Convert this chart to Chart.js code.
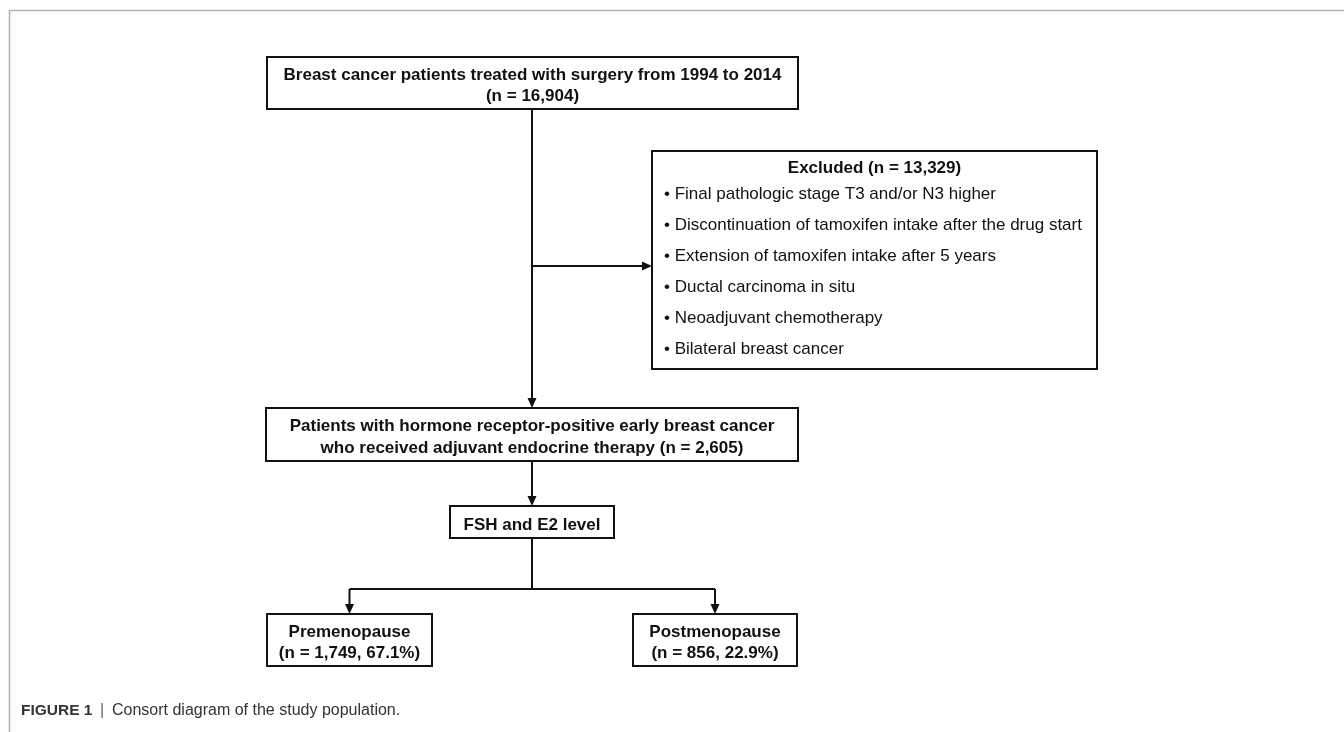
<!DOCTYPE html>
<html>
<head>
<meta charset="utf-8">
<title>Consort diagram</title>
<script src="https://cdn.jsdelivr.net/npm/chart.js@4/dist/chart.umd.min.js"></script>
<style>
  html, body { margin: 0; padding: 0; background: #fff; }
  canvas { display: block; }
</style>
</head>
<body>
<canvas id="flowChart" width="1344" height="732"></canvas>
<script>
// flow data
const stageNames = [
    ["Breast cancer patients treated with surgery from 1994 to 2014"],
    ["Patients with hormone receptor-positive early breast cancer", "who received adjuvant endocrine therapy"],
    ["FSH and E2 level"]
];
const stageCounts = ["16,904", "2,605", null];

const excludedLabel = "Excluded";
const excludedCount = "13,329";
const exclusionReasons = [
    "Final pathologic stage T3 and/or N3 higher",
    "Discontinuation of tamoxifen intake after the drug start",
    "Extension of tamoxifen intake after 5 years",
    "Ductal carcinoma in situ",
    "Neoadjuvant chemotherapy",
    "Bilateral breast cancer"
];

const groupNames = ["Premenopause", "Postmenopause"];
const groupCounts = ["1,749", "856"];
const groupPercents = ["67.1%", "22.9%"];

const captionLabel = "FIGURE 1";
const captionText = "Consort diagram of the study population.";

// layout (in scale units, 0..1344 x 0..732)
const W = 1344, H = 732;
const stageBoxes = [
    [267, 57, 798, 109],
    [266, 408, 798, 461],
    [450, 506, 614, 538]
];
const excludedBox = [652, 151, 1097, 369];
const groupBoxes = [
    [267, 614, 432, 666],
    [633, 614, 797, 666]
];
const excludeBranchY = 266;
const splitY = 589;
const arrowLen = 10;
const ink = "#111";

const cx = b => (b[0] + b[2]) / 2;

// connectors as line datasets, derived from the boxes
const trunkX = cx(stageBoxes[1]);
const segments = [
    [[trunkX, stageBoxes[0][3]], [trunkX, stageBoxes[1][1]]],
    [[trunkX, excludeBranchY], [excludedBox[0], excludeBranchY]],
    [[trunkX, stageBoxes[1][3]], [trunkX, stageBoxes[2][1]]],
    [[trunkX, stageBoxes[2][3]], [trunkX, splitY]],
    [[cx(groupBoxes[0]), splitY], [cx(groupBoxes[1]), splitY]],
    [[cx(groupBoxes[0]), splitY], [cx(groupBoxes[0]), groupBoxes[0][1]]],
    [[cx(groupBoxes[1]), splitY], [cx(groupBoxes[1]), groupBoxes[1][1]]]
];
const arrowEnds = [0, 1, 2, 5, 6]; // segments ending in an arrowhead

function shorten(seg, i) {
    if (!arrowEnds.includes(i)) return seg;
    const [a, b] = seg;
    const dx = Math.sign(b[0] - a[0]), dy = Math.sign(b[1] - a[1]);
    return [a, [b[0] - dx * (arrowLen - 1), b[1] - dy * (arrowLen - 1)]];
}

const connectorDatasets = segments.map((s, i) => ({
    data: shorten(s, i).map(p => ({ x: p[0], y: p[1] })),
    showLine: true,
    borderColor: ink,
    borderWidth: 2,
    pointRadius: 0,
    fill: false,
    clip: false
}));

const flowPlugin = {
    id: "flow",
    beforeDraw(chart) {
        const c = chart.ctx;
        c.save();
        c.fillStyle = "#fff";
        c.fillRect(0, 0, chart.width, chart.height);
        c.strokeStyle = "#b3b3b3";
        c.lineWidth = 1.5;
        c.beginPath();
        c.moveTo(9.5, chart.height);
        c.lineTo(9.5, 10.5);
        c.lineTo(chart.width, 10.5);
        c.stroke();
        c.restore();
    },
    afterDatasetsDraw(chart) {
        const c = chart.ctx;
        const xs = chart.scales.x, ys = chart.scales.y;
        const px = v => xs.getPixelForValue(v);
        const py = v => ys.getPixelForValue(v);

        function box(b) {
            const x0 = Math.round(px(b[0])), y0 = Math.round(py(b[1]));
            const x1 = Math.round(px(b[2])), y1 = Math.round(py(b[3]));
            c.strokeStyle = ink;
            c.lineWidth = 2;
            c.strokeRect(x0, y0, x1 - x0, y1 - y0);
        }

        function centeredLines(b, lines, gap) {
            const mid = (py(b[1]) + py(b[3])) / 2;
            const x = px(cx(b));
            c.fillStyle = ink;
            c.font = "bold 17px 'Liberation Sans', Arial, sans-serif";
            c.textAlign = "center";
            c.textBaseline = "middle";
            lines.forEach((t, i) => {
                c.fillText(t, x, mid + (i - (lines.length - 1) / 2) * gap + 3);
            });
        }

        function arrowHead(seg) {
            const [a, b] = seg;
            const tx = px(b[0]), ty = py(b[1]);
            const dx = Math.sign(b[0] - a[0]), dy = Math.sign(b[1] - a[1]);
            const half = 4.5;
            c.fillStyle = ink;
            c.beginPath();
            c.moveTo(tx, ty);
            c.lineTo(tx - dx * arrowLen - dy * half, ty - dy * arrowLen - dx * half);
            c.lineTo(tx - dx * arrowLen + dy * half, ty - dy * arrowLen + dx * half);
            c.closePath();
            c.fill();
        }

        c.save();

        // stage boxes
        stageBoxes.forEach((b, i) => {
            box(b);
            let lines = stageNames[i].slice();
            if (stageCounts[i]) {
                const n = `(n = ${stageCounts[i]})`;
                if (lines.length === 1) lines.push(n);
                else lines[lines.length - 1] += " " + n;
            }
            centeredLines(b, lines, 21.5);
        });

        // group boxes
        groupBoxes.forEach((b, i) => {
            box(b);
            centeredLines(b, [groupNames[i], `(n = ${groupCounts[i]}, ${groupPercents[i]})`], 21.5);
        });

        // excluded box
        box(excludedBox);
        c.fillStyle = ink;
        c.textBaseline = "middle";
        c.textAlign = "center";
        c.font = "bold 17px 'Liberation Sans', Arial, sans-serif";
        c.fillText(`${excludedLabel} (n = ${excludedCount})`, px(cx(excludedBox)), py(excludedBox[1]) + 17);
        c.textAlign = "left";
        c.font = "17px 'Liberation Sans', Arial, sans-serif";
        exclusionReasons.forEach((r, i) => {
            c.fillText("\u2022 " + r, px(excludedBox[0]) + 12, py(excludedBox[1]) + 43 + i * 31);
        });

        segments.forEach((s, i) => { if (arrowEnds.includes(i)) arrowHead(s); });

        c.restore();
    },
    afterDraw(chart) {
        const c = chart.ctx;
        c.save();
        c.textBaseline = "alphabetic";
        c.textAlign = "left";
        c.fillStyle = "#333";
        c.font = "bold 15.5px 'Liberation Sans', Arial, sans-serif";
        c.fillText(captionLabel, 21, 715);
        c.fillStyle = "#666";
        c.font = "16px 'Liberation Sans', Arial, sans-serif";
        c.fillText("|", 100, 715);
        c.fillStyle = "#333";
        c.fillText(captionText, 112, 715);
        c.restore();
    }
};

const chart = new Chart(document.getElementById("flowChart"), {
    type: "scatter",
    data: { datasets: connectorDatasets },
    options: {
        responsive: false,
        animation: false,
        devicePixelRatio: 1,
        events: [],
        layout: { padding: 0 },
        plugins: {
            legend: { display: false },
            tooltip: { enabled: false }
        },
        scales: {
            x: { type: "linear", min: 0, max: W, display: false },
            y: { type: "linear", min: 0, max: H, reverse: true, display: false }
        }
    },
    plugins: [flowPlugin]
});
</script>
</body>
</html>
